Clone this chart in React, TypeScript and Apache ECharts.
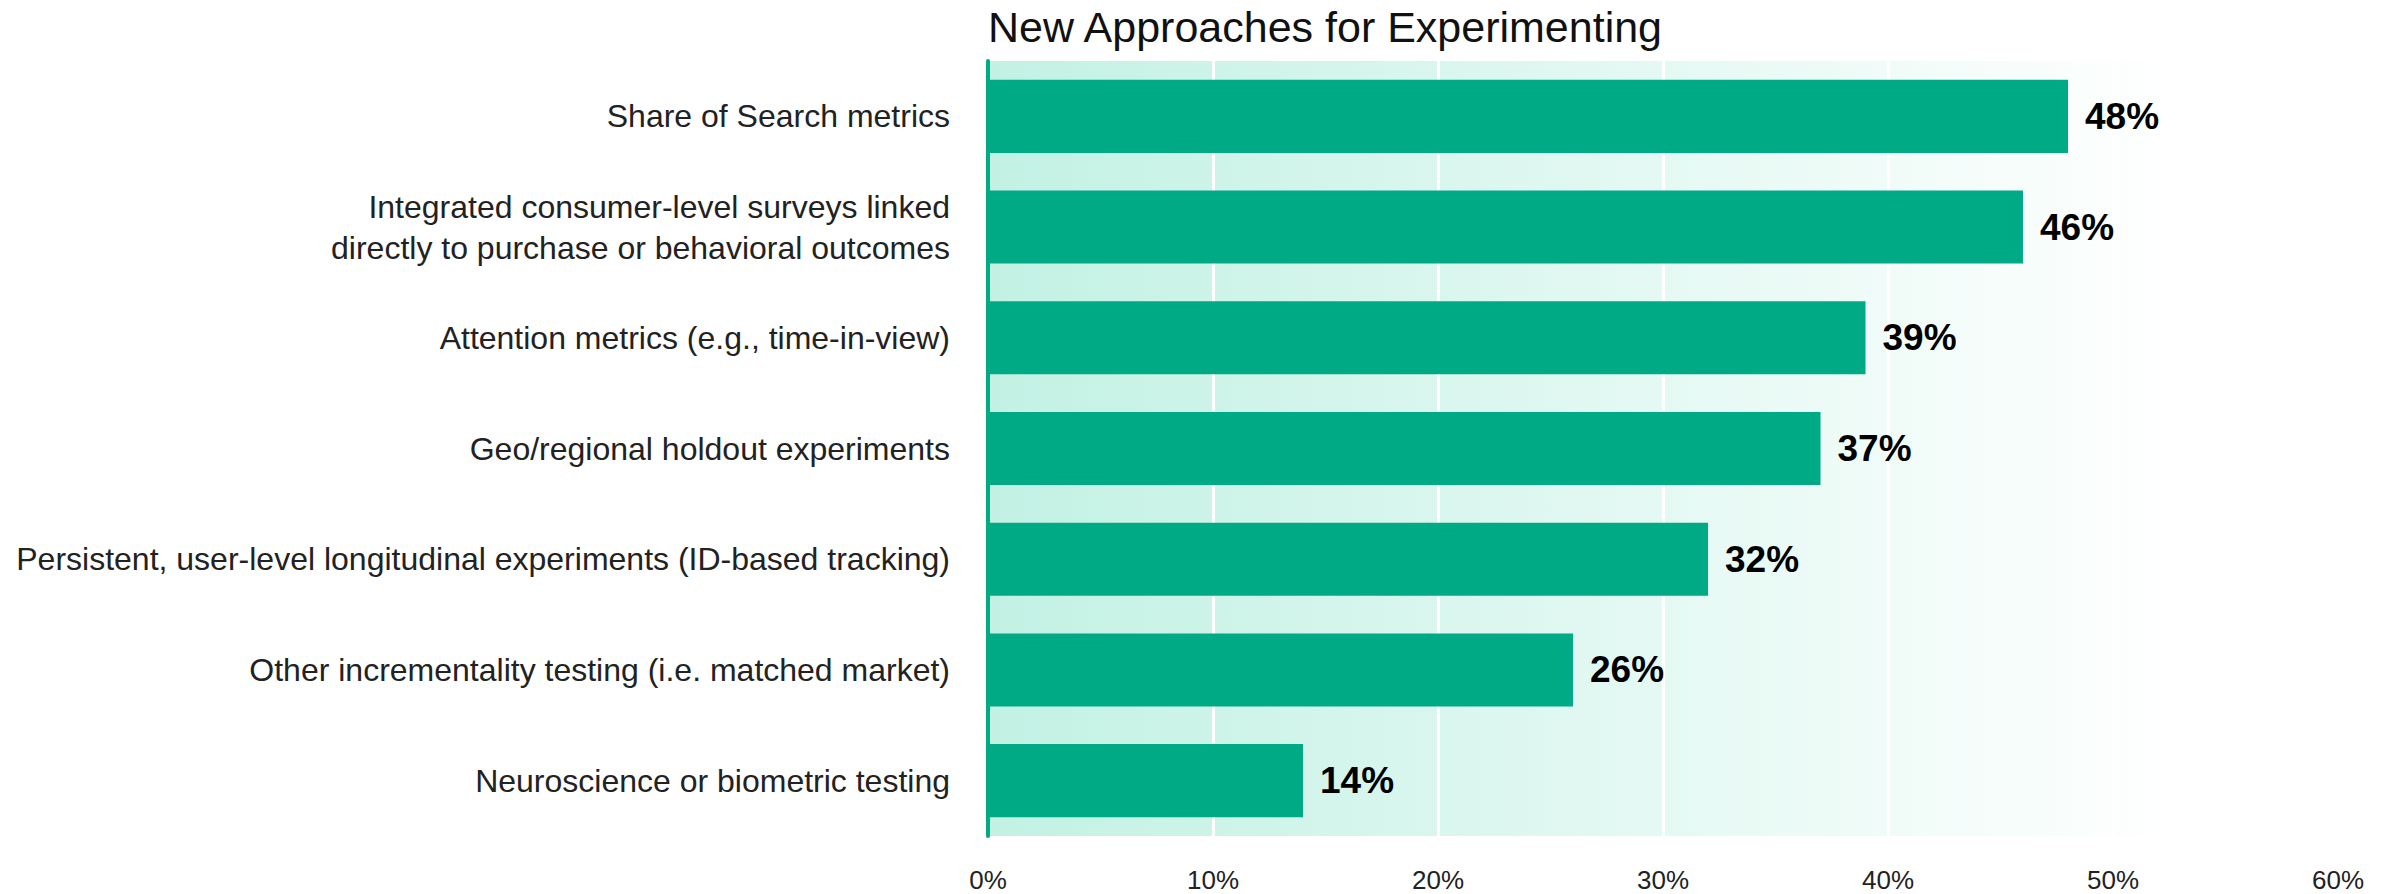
import React, { useEffect, useRef } from "react";
import * as echarts from "echarts";

const titleText = "New Approaches for Experimenting";
const categories = [
  "Share of Search metrics",
  "Integrated consumer-level surveys linked\ndirectly to purchase or behavioral outcomes",
  "Attention metrics (e.g., time-in-view)",
  "Geo/regional holdout experiments",
  "Persistent, user-level longitudinal experiments (ID-based tracking)",
  "Other incrementality testing (i.e. matched market)",
  "Neuroscience or biometric testing",
];
const values = [48, 46, 39, 37, 32, 26, 14];
const xTicks = [0, 10, 20, 30, 40, 50, 60];

const GREEN = "#00AA84";
const FONT = "'Liberation Sans', Arial, sans-serif";

export default function App() {
  const ref = useRef<HTMLDivElement>(null);
  useEffect(() => {
    if (!ref.current) return;
    const chart = echarts.init(ref.current, undefined, { renderer: "svg" });
    chart.setOption({
      animation: false,
      backgroundColor: "#ffffff",
      title: {
        text: titleText,
        left: 983,
        top: 0,
        textStyle: { fontFamily: FONT, fontSize: 43, fontWeight: 300, color: "#111" },
      },
      grid: {
        left: 988,
        right: 53,
        top: 61,
        bottom: 58,
        show: true,
        borderWidth: 0,
        backgroundColor: new echarts.graphic.LinearGradient(0, 0, 1, 0, [
          { offset: 0, color: "#c2f1e4" },
          { offset: 0.88, color: "#ffffff" },
          { offset: 1, color: "#ffffff" },
        ]),
      },
      xAxis: {
        type: "value",
        min: xTicks[0],
        max: xTicks[xTicks.length - 1],
        interval: 10,
        axisLine: { show: false },
        axisTick: { show: false },
        splitLine: { show: true, lineStyle: { color: "#ffffff", width: 3 } },
        axisLabel: {
          formatter: "{value}%",
          fontFamily: FONT,
          fontSize: 26,
          color: "#222",
          margin: 31,
        },
      },
      yAxis: {
        type: "category",
        data: categories,
        inverse: true,
        axisLine: { show: true, lineStyle: { color: GREEN, width: 4 } },
        axisTick: { show: false },
        axisLabel: {
          fontFamily: FONT,
          fontSize: 32,
          color: "#222",
          margin: 38,
          lineHeight: 41,
          align: "right",
        },
        z: 5,
      },
      series: [
        {
          type: "bar",
          data: values,
          barCategoryGap: "34%",
          itemStyle: { color: GREEN },
          label: {
            show: true,
            position: "right",
            distance: 17,
            formatter: "{c}%",
            fontFamily: FONT,
            fontSize: 37,
            fontWeight: "bold",
            color: "#000",
          },
          z: 3,
        },
      ],
    });
    return () => chart.dispose();
  }, []);
  return (
    <div
      ref={ref}
      style={{ position: "fixed", left: 0, top: 0, width: 2391, height: 894 }}
    />
  );
}
